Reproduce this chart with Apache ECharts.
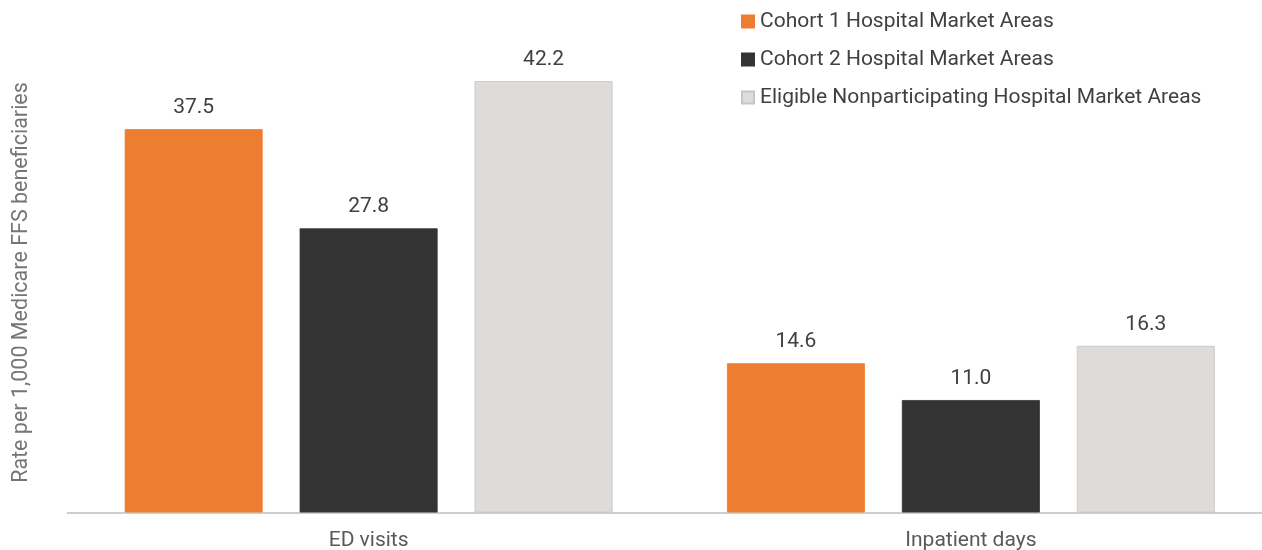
<!DOCTYPE html>
<html><head><meta charset="utf-8">
<script src="https://cdn.jsdelivr.net/npm/echarts@6/dist/echarts.min.js"></script>
<style>html,body{margin:0;padding:0;background:#fff}#c{width:1262px;height:550px}</style>
</head><body><div id="c"></div>
<script>
const categories = ['ED visits', 'Inpatient days'];
const seriesNames = ['Cohort 1 Hospital Market Areas', 'Cohort 2 Hospital Market Areas', 'Eligible Nonparticipating Hospital Market Areas'];
const cohort1 = [37.5, 14.6];
const cohort2 = [27.8, 11.0];
const eligible = [42.2, 16.3];
const yAxisTitle = 'Rate per 1,000 Medicare FFS beneficiaries';

const colors = ['#ED7D31', '#333333', '#DEDBD8'];
const borders = ['#ED7D31', '#333333', '#C8C5C2'];
const font = 'Roboto, "Noto Sans", sans-serif';
const values = [cohort1, cohort2, eligible];

const chart = echarts.init(document.getElementById('c'), null, {renderer: 'canvas'});
chart.setOption({
  animation: false,
  textStyle: {fontFamily: font},
  grid: {left: 67.5, right: -10, top: 52.5, bottom: 37.5, containLabel: false, outerBoundsMode: 'none'},
  legend: {
    orient: 'vertical', left: 736, top: 6, itemWidth: 12, itemHeight: 12, itemGap: 17,
    icon: 'rect',
    textStyle: {fontSize: 21, color: '#404040', fontFamily: font, padding: [0, 0, 0, 1]},
    data: seriesNames
  },
  xAxis: {
    type: 'category', data: categories,
    axisLine: {lineStyle: {color: '#BFBFBF', width: 1.5}},
    axisTick: {show: false},
    axisLabel: {fontSize: 21, color: '#595959', margin: 18, fontFamily: font}
  },
  yAxis: {
    type: 'value', min: 0, max: 45,
    name: yAxisTitle, nameLocation: 'middle', nameGap: 35,
    nameTextStyle: {fontSize: 21.5, color: '#757575', fontFamily: font},
    axisLine: {show: false}, axisTick: {show: false}, axisLabel: {show: false}, splitLine: {show: false}
  },
  series: seriesNames.map((n, i) => ({
    name: n, type: 'bar', data: values[i],
    barGap: '26.8%', barCategoryGap: '19%',
    itemStyle: {color: colors[i], borderColor: borders[i], borderWidth: 0.8},
    label: {show: true, position: 'top', distance: 11, fontSize: 21, color: '#404040', fontFamily: font,
      formatter: p => p.value.toFixed(1)}
  }))
});
</script></body></html>
